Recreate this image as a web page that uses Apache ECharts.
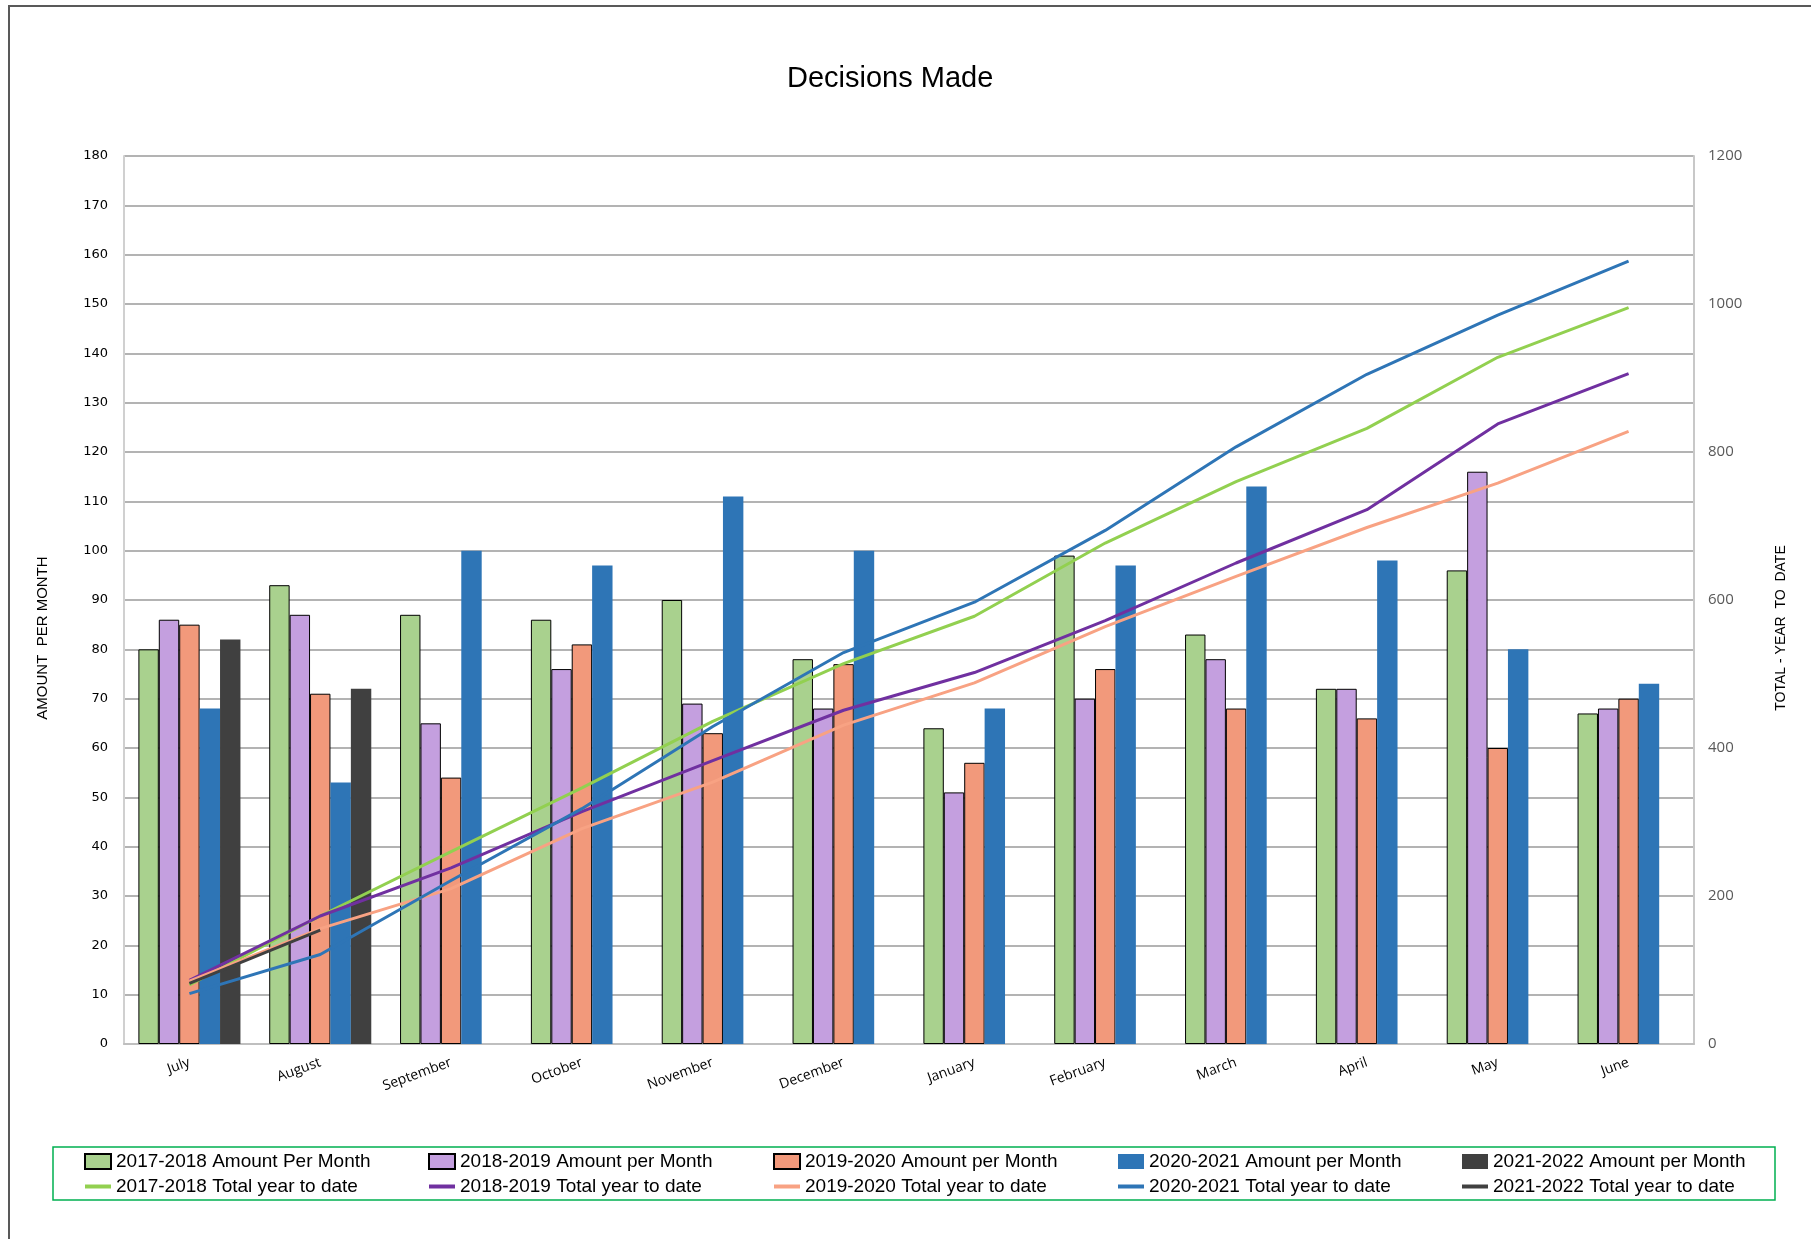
<!DOCTYPE html>
<html>
<head>
<meta charset="utf-8">
<script src="https://cdn.jsdelivr.net/npm/echarts@6/dist/echarts.min.js"></script>
<style>
  html, body { margin: 0; padding: 0; background: #fff; }
  #main { width: 1811px; height: 1239px; }
</style>
</head>
<body>
<div id="main"></div>
<script>
var months = ['July', 'August', 'September', 'October', 'November', 'December',
  'January', 'February', 'March', 'April', 'May', 'June'];

// amount per month (left axis)
var amount1718 = [80, 93, 87, 86, 90, 78, 64, 99, 83, 72, 96, 67];
var amount1819 = [86, 87, 65, 76, 69, 68, 51, 70, 78, 72, 116, 68];
var amount1920 = [85, 71, 54, 81, 63, 77, 57, 76, 68, 66, 60, 70];
var amount2021 = [68, 53, 100, 97, 111, 100, 68, 97, 113, 98, 80, 73];
var amount2122 = [82, 72, null, null, null, null, null, null, null, null, null, null];

// total year to date (right axis)
var total1718 = [80, 173, 260, 346, 436, 514, 578, 677, 760, 832, 928, 995];
var total1819 = [86, 173, 238, 314, 383, 451, 502, 572, 650, 722, 838, 906];
var total1920 = [85, 156, 210, 291, 354, 431, 488, 564, 632, 698, 758, 828];
var total2021 = [68, 121, 221, 318, 429, 529, 597, 694, 807, 905, 985, 1058];
var total2122 = [82, 154];

var chart = echarts.init(document.getElementById('main'));

function barSeries(name, data, color, border) {
  return {
    name: name,
    type: 'bar',
    data: data,
    barGap: '0%',
    barCategoryGap: '22%',
    itemStyle: {
      color: color,
      borderColor: border ? '#000' : color,
      borderWidth: border ? 1 : 0
    }
  };
}

function lineSeries(name, data, color) {
  return {
    name: name,
    type: 'line',
    yAxisIndex: 1,
    data: data,
    symbol: 'none',
    z: 5,
    lineStyle: { color: color, width: 3 },
    itemStyle: { color: color }
  };
}

var legendFont = { fontFamily: 'Liberation Sans', fontSize: 19, color: '#000' };
var colX = [84, 428, 773, 1118, 1462];
var colNames = [
  ['2017-2018 Amount Per Month', '2017-2018 Total year to date'],
  ['2018-2019 Amount per Month', '2018-2019 Total year to date'],
  ['2019-2020 Amount per Month', '2019-2020 Total year to date'],
  ['2020-2021 Amount per Month', '2020-2021 Total year to date'],
  ['2021-2022 Amount per Month', '2021-2022 Total year to date']
];

var option = {
  backgroundColor: '#fff',
  animation: false,
  title: {
    text: 'Decisions Made',
    left: 782,
    top: 59,
    textStyle: { fontFamily: 'Liberation Sans', fontSize: 29, fontWeight: 'normal', color: '#000' }
  },
  graphic: [
    {
      type: 'polyline',
      shape: { points: [[9, 1239], [9, 6], [1811, 6]] },
      style: { stroke: '#595959', lineWidth: 2, fill: null }
    },
    {
      type: 'rect',
      shape: { x: 53, y: 1147, width: 1722, height: 53 },
      style: { stroke: '#00b050', lineWidth: 1.5, fill: null }
    },
    {
      type: 'text',
      x: 43, y: 638, rotation: Math.PI / 2,
      style: { text: 'AMOUNT  PER MONTH', fontFamily: 'Liberation Sans', fontSize: 15,
        fill: '#000', align: 'center', verticalAlign: 'middle' }
    },
    {
      type: 'text',
      x: 1781, y: 628, rotation: Math.PI / 2,
      style: { text: 'TOTAL - YEAR  TO  DATE', fontFamily: 'Liberation Sans', fontSize: 14,
        fill: '#000', align: 'center', verticalAlign: 'middle' }
    }
  ],
  legend: colX.map(function (x, i) {
    return {
      data: [
        { name: colNames[i][0], icon: 'rect' },
        { name: colNames[i][1], icon: 'path://M0,0 L26,0 L26,4 L0,4 Z' }
      ],
      orient: 'vertical',
      left: x,
      top: 1152,
      itemGap: 6,
      itemWidth: 26,
      itemHeight: 15,
      padding: 0,
      textStyle: legendFont
    };
  }),
  grid: { left: 124, right: 117, top: 156, bottom: 195, containLabel: false },
  xAxis: {
    type: 'category',
    data: months,
    axisLine: { lineStyle: { color: '#bfbfbf', width: 2 } },
    axisTick: { show: false },
    axisLabel: { rotate: 20, fontFamily: 'Open Sans', fontSize: 14, color: '#000', margin: 18 }
  },
  yAxis: [
    {
      type: 'value',
      min: 0,
      max: 180,
      interval: 10,
      axisLine: { show: true, lineStyle: { color: '#d0d0d0', width: 2 } },
      axisTick: { show: false },
      axisLabel: { fontFamily: 'DejaVu Sans', fontSize: 13, color: '#000', margin: 16 },
      splitLine: { lineStyle: { color: '#9a9a9a', width: 1.5 } }
    },
    {
      type: 'value',
      min: 0,
      max: 1200,
      interval: 200,
      axisLine: { show: true, lineStyle: { color: '#c8c8c8', width: 2 } },
      axisTick: { show: false },
      axisLabel: { fontFamily: 'Open Sans', fontSize: 15, color: '#595959', margin: 14,
        formatter: function (v) { return String(v); } },
      splitLine: { show: false }
    }
  ],
  series: [
    barSeries('2017-2018 Amount Per Month', amount1718, '#a9d18e', true),
    barSeries('2018-2019 Amount per Month', amount1819, '#c49fdf', true),
    barSeries('2019-2020 Amount per Month', amount1920, '#f2997b', true),
    barSeries('2020-2021 Amount per Month', amount2021, '#2e75b6', false),
    barSeries('2021-2022 Amount per Month', amount2122, '#404040', false),
    lineSeries('2017-2018 Total year to date', total1718, '#92d050'),
    lineSeries('2018-2019 Total year to date', total1819, '#7030a0'),
    lineSeries('2019-2020 Total year to date', total1920, '#f8a283'),
    lineSeries('2020-2021 Total year to date', total2021, '#2e75b6'),
    lineSeries('2021-2022 Total year to date', total2122, '#404040')
  ]
};

chart.setOption(option);
</script>
</body>
</html>
